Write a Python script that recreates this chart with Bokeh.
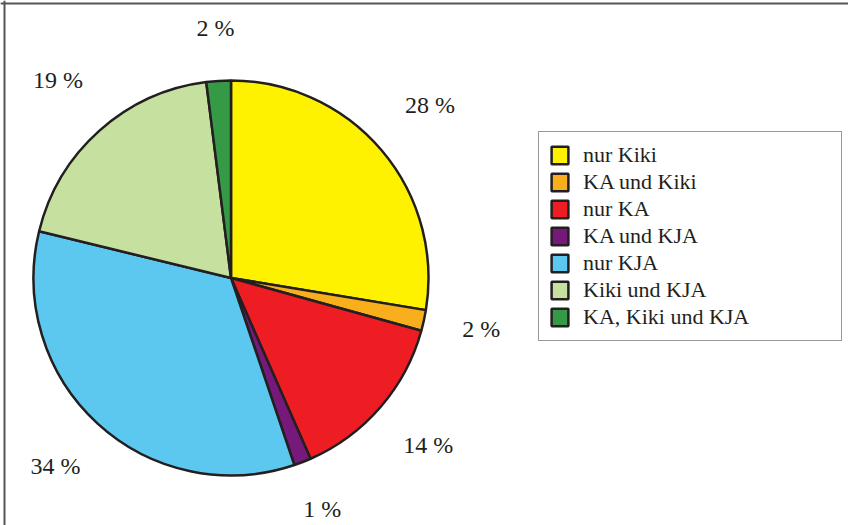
import numpy as np
from bokeh.plotting import figure
from bokeh.models import ColumnDataSource, Range1d, Span, Legend, LegendItem
from bokeh.core.properties import value
from bokeh.embed import file_html
from bokeh.resources import INLINE

# ---- data ----
categories = ["nur Kiki", "KA und Kiki", "nur KA", "KA und KJA",
              "nur KJA", "Kiki und KJA", "KA, Kiki und KJA"]
shares = [27.6, 1.7, 14.1, 1.4, 34.0, 19.2, 2.0]
labels = ["28 %", "2 %", "14 %", "1 %", "34 %", "19 %", "2 %"]
colors = ["#FFF200", "#F9AE1C", "#EE1D23", "#76197A",
          "#5CC8EF", "#C6E0A0", "#359946"]

# ---- layout ----
W, H = 848, 525
cx, cy, r = 230.5, 247.5, 197.5
FONT = "Liberation Serif"
INK = "#231f20"
PCT_PX = 24
gap, half_h = 38, 10
text_lift = 4  # compensate svg 'middle' baseline

frac = np.array(shares) / sum(shares)
cum_end = np.cumsum(frac)
cum_start = cum_end - frac
start = np.pi / 2 - cum_end * 2 * np.pi
end = np.pi / 2 - cum_start * 2 * np.pi
mid = np.pi / 2 - (cum_start + cum_end) * np.pi

# label distance: outside the rim, pushed out by the label's half extent
ndig = np.array([len(t.split()[0]) for t in labels])
half_w = 0.5 * PCT_PX * (0.5 * ndig + 1.083)
dist = r + gap + half_w * np.abs(np.cos(mid)) + half_h * np.abs(np.sin(mid))

src = ColumnDataSource(dict(cat=categories, start=start, end=end, color=colors))
lab = ColumnDataSource(dict(x=cx + dist * np.cos(mid),
                            y=cy + dist * np.sin(mid) + text_lift, text=labels))

p = figure(width=W, height=H, x_range=Range1d(0, W), y_range=Range1d(0, H),
           output_backend="svg", toolbar_location=None, min_border=0,
           x_axis_location=None, y_axis_location=None)
p.grid.visible = False
p.outline_line_color = None
p.background_fill_color = "white"

wr = p.wedge(x=cx, y=cy, radius=r, start_angle="start", end_angle="end",
             direction="anticlock", fill_color="color", line_color=INK,
             line_width=2.5, source=src)

p.text(x="x", y="y", text="text", source=lab, text_font=value(FONT),
       text_font_size=f"{PCT_PX}px", text_align="center", text_baseline="middle",
       text_color=INK)

legend = Legend(
    items=[LegendItem(label=c, renderers=[wr], index=i) for i, c in enumerate(categories)],
    location=(538, 184), orientation="vertical",
    glyph_width=21, glyph_height=22, label_height=22, spacing=1,
    label_standoff=13, padding=10, margin=0, label_width=248,
    border_line_color="#333333", border_line_width=1.5,
    background_fill_color="white", background_fill_alpha=1.0,
    label_text_font=FONT, label_text_font_size="22px", label_text_color=INK,
)
p.add_layout(legend)

p.add_layout(Span(location=H - 3, dimension="width", line_color="#555555", line_width=2))
p.add_layout(Span(location=4, dimension="height", line_color="#555555", line_width=2))

open("out.html", "w").write(file_html(p, INLINE))
